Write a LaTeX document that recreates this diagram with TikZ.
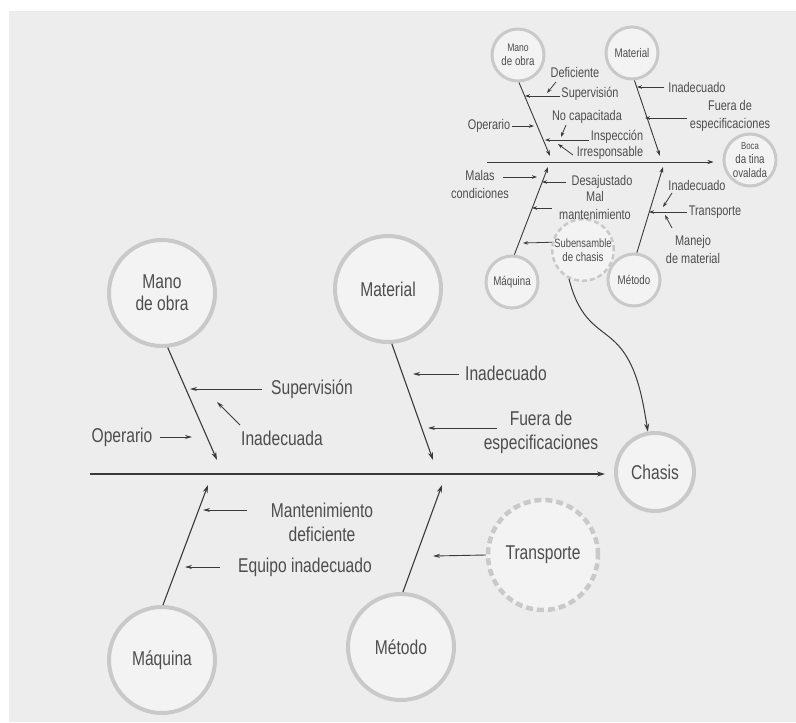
\documentclass[tikz,border=0pt]{standalone}
\usepackage{fontspec}
\setmainfont{Liberation Sans}[FakeStretch=0.78]
\usetikzlibrary{arrows.meta}
\definecolor{bgc}{HTML}{EDEDED}
\definecolor{circf}{HTML}{F3F3F3}
\definecolor{ringc}{HTML}{C9C9C9}
\definecolor{txtc}{HTML}{4D4D4D}
\definecolor{linec}{HTML}{3A3A3A}
\tikzset{
  bigc/.style={circle, draw=ringc, line width=4pt, fill=circf, minimum size=106pt, inner sep=0pt, align=center, text=txtc, font=\fontsize{20}{22}\selectfont},
  dashc/.style={bigc, dash pattern=on 7pt off 4pt, line width=4.5pt},
  smallc/.style={circle, draw=ringc, line width=3pt, fill=circf, minimum size=52pt, inner sep=0pt, align=center, text=txtc, font=\fontsize{12.5}{14}\selectfont},
  sdashc/.style={smallc, dash pattern=on 5pt off 3pt, line width=2.5pt},
  biglbl/.style={align=center, text=txtc, inner sep=0pt, font=\fontsize{20}{24}\selectfont},
  smalllbl/.style={align=center, text=txtc, inner sep=0pt, font=\fontsize{14}{18}\selectfont},
  bone/.style={draw=linec, line width=1.1pt, -{Stealth[length=8pt,width=5pt]}},
  cause/.style={draw=linec, line width=0.9pt, -{Stealth[length=7pt,width=4pt]}},
  sbone/.style={draw=linec, line width=0.9pt, -{Stealth[length=6pt,width=4pt]}},
  scause/.style={draw=linec, line width=0.8pt, -{Stealth[length=5pt,width=3.5pt]}}
}
\begin{document}
\begin{tikzpicture}[x=1pt,y=-1pt]
\useasboundingbox (0,0) rectangle (796,723);
\fill[white] (0,0) rectangle (796,723);
\fill[bgc] (9,11) rectangle (796,722);

% ===== main diagram =====
\node[bigc] (mano) at (162,293) {Mano\\de obra};
\node[bigc] (mat) at (388,289) {Material};
\node[bigc] (maq) at (162,660) {Máquina};
\node[bigc] (met) at (401,647) {Método};
\node[bigc, minimum size=78pt] (chasis) at (655,472) {Chasis};
\node[dashc, minimum size=110pt] (transp) at (543,555) {Transporte};

\coordinate (spL) at (90,474);
\draw[bone] (spL) -- (chasis.west |- spL) [shorten >=9pt];
\coordinate (tMano) at (217,460);
\coordinate (tMat) at (433,460);
\coordinate (tMaq) at (208,485);
\coordinate (tMet) at (442,485);
\draw[bone] (mano.-84) -- (tMano);
\draw[bone] (mat.-86) -- (tMat);
\draw[bone] (maq.89) -- (tMaq);
\draw[bone] (met.88) -- (tMet);

% causes main
\node[biglbl] (sup) at (312,389) {Supervisión};
\coordinate (tSup) at (190,389);
\draw[cause] ([xshift=-9pt]sup.west) -- (tSup);
\node[biglbl] (inada) at (282,438) {Inadecuada};
\coordinate (sInada) at (240,425);
\coordinate (tInada) at (217,402);
\draw[cause] (sInada) -- (tInada);
\node[biglbl] (oper) at (122,437) {Operario};
\coordinate (tOper) at (192,437);
\draw[cause] ([xshift=7pt]oper.east) -- (tOper);

\node[biglbl] (inado) at (506,373) {Inadecuado};
\coordinate (tInado) at (413,374);
\draw[cause] ([xshift=-6pt]inado.west |- tInado) -- (tInado);
\node[biglbl] (fuera) at (541,432) {Fuera de\\especificaciones};
\coordinate (sFuera) at (497,428);
\coordinate (tFuera) at (428,428);
\draw[cause] (sFuera) -- (tFuera);

\node[biglbl] (mant) at (322,522) {Mantenimiento\\deficiente};
\coordinate (sMant) at (247,510);
\coordinate (tMant) at (203,510);
\draw[cause] (sMant) -- (tMant);
\node[biglbl] (equipo) at (305,567) {Equipo inadecuado};
\coordinate (tEquipo) at (185,567);
\draw[cause] ([xshift=-18pt]equipo.west) -- (tEquipo);
\coordinate (tTransp) at (433,556);
\draw[cause] (transp.west) -- (tTransp);

% ===== small diagram =====
\node[smallc] (smano) at (518,55) {\fontsize{11}{13}\selectfont Mano\\de obra};
\node[smallc] (smat) at (632,53) {Material};
\node[smallc] (sboca) at (750,160) {\fontsize{10}{12}\selectfont Boca\\da tina\\ovalada};
\node[smallc] (smaq) at (512,282) {Máquina};
\node[smallc] (smet) at (634,280) {Método};
\node[sdashc] (ssub) at (583,250) {\fontsize{12}{12}\selectfont Subensamble\\de chasis};

\coordinate (sspL) at (487,162);
\draw[sbone] (sspL) -- (sboca.west |- sspL) [shorten >=9pt];
\coordinate (stMano) at (550,156);
\coordinate (stMat) at (660,156);
\coordinate (stMaq) at (548,167);
\coordinate (stMet) at (663,167);
\draw[sbone] (smano.-88) -- (stMano);
\draw[sbone] (smat.-85) -- (stMat);
\draw[sbone] (smaq.85) -- (stMaq);
\draw[sbone] (smet.84) -- (stMet);

% small causes
\node[smalllbl] (sdef) at (575,72) {Deficiente};
\coordinate (ssDef) at (556,82);
\coordinate (stDef) at (547,93);
\draw[scause] (ssDef) -- (stDef);
\node[smalllbl] (ssup) at (590,94) {Supervisión};
\coordinate (stSup) at (525,96);
\draw[scause] ([xshift=-1pt]ssup.west |- stSup) -- (stSup);
\node[smalllbl] (snocap) at (587,117) {No capacitada};
\coordinate (ssNocap) at (566,125);
\coordinate (stNocap) at (561,137);
\draw[scause] (ssNocap) -- (stNocap);
\node[smalllbl] (soper) at (489,126) {Operario};
\coordinate (stOper) at (534,126);
\draw[scause] ([xshift=2pt]soper.east) -- (stOper);
\node[smalllbl] (sinsp) at (617,137) {Inspección};
\coordinate (stInsp) at (545,140);
\draw[scause] ([xshift=-2pt]sinsp.west |- stInsp) -- (stInsp);
\node[smalllbl] (sirr) at (610,153) {Irresponsable};
\coordinate (ssIrr) at (573,155);
\coordinate (stIrr) at (558,144);
\draw[scause] (ssIrr) -- (stIrr);

\node[smalllbl] (sinado) at (697,87) {Inadecuado};
\coordinate (stInado) at (637,87);
\draw[scause] ([xshift=-4pt]sinado.west) -- (stInado);
\node[smalllbl] (sfuera) at (730,116) {Fuera de\\especificaciones};
\coordinate (ssFuera) at (687,118);
\coordinate (stFuera) at (645,118);
\draw[scause] (ssFuera) -- (stFuera);

\node[smalllbl] (smalas) at (480,184) {Malas\\condiciones};
\coordinate (ssMalas) at (503,177);
\coordinate (stMalas) at (537,177);
\draw[scause] (ssMalas) -- (stMalas);
\node[smalllbl] (sdesaj) at (602,182) {Desajustado};
\coordinate (stDesaj) at (542,182);
\draw[scause] ([xshift=-5pt]sdesaj.west) -- (stDesaj);
\node[smalllbl] (smalm) at (595,205) {Mal\\mantenimiento};
\coordinate (ssMalm) at (552,208);
\coordinate (stMalm) at (532,208);
\draw[scause] (ssMalm) -- (stMalm);
\coordinate (stSub) at (523,243);
\draw[scause] (ssub.166) -- (stSub);

\node[smalllbl] (sinmet) at (697,185) {Inadecuado};
\coordinate (ssInmet) at (672,193);
\coordinate (stInmet) at (663,207);
\draw[scause] (ssInmet) -- (stInmet);
\node[smalllbl] (stransp) at (715,212) {Transporte};
\coordinate (stTransp) at (649,212);
\draw[scause] ([xshift=-2pt]stransp.west) -- (stTransp);
\node[smalllbl] (smanejo) at (693,249) {Manejo\\de material};
\coordinate (ssManejo) at (672,228);
\coordinate (stManejo) at (665,215);
\draw[scause] (ssManejo) -- (stManejo);

% link subensamble -> chasis
\draw[bone, line width=1pt] (ssub.-116) .. controls (580,322) and (598,326) .. (615,342)
      .. controls (636,362) and (642,395) .. (chasis.100);
\end{tikzpicture}
\end{document}
